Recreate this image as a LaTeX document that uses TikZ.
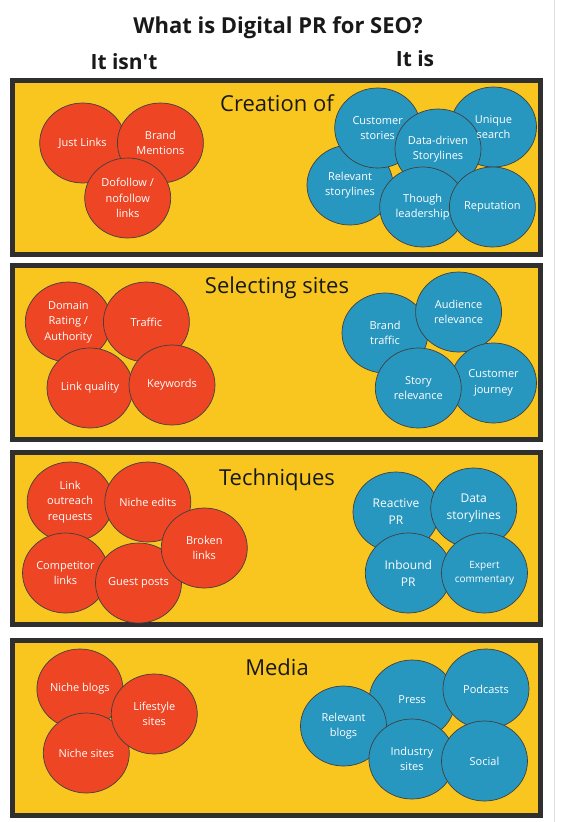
\documentclass[tikz,border=0pt]{standalone}
\usepackage{fontspec}
\setmainfont{Open Sans}
\usetikzlibrary{shapes.geometric}
\definecolor{pyellow}{HTML}{F8C61E}
\definecolor{pred}{HTML}{EE4524}
\definecolor{pblue}{HTML}{2897C0}
\definecolor{pborder}{HTML}{2F2F2F}
\tikzset{
  panel/.style={draw=pborder, fill=pyellow, line width=5pt},
  bub/.style={ellipse, minimum width=86pt, minimum height=80pt, inner sep=0pt, draw=black!75, line width=0.7pt},
  redb/.style={bub, fill=pred},
  blueb/.style={bub, fill=pblue},
  lbl/.style={text=white, align=center, font=\fontsize{11}{15.5}\selectfont},
  lblsm/.style={text=white, align=center, font=\fontsize{10}{14.3}\selectfont},
  ptitle/.style={font=\fontsize{22}{26}\selectfont, text=black!90},
  htitle/.style={font=\bfseries\fontsize{21}{25}\selectfont, text=black!90},
}
\begin{document}
\begin{tikzpicture}[x=1pt,y=-1pt]
\useasboundingbox (0,0) rectangle (564,822);
\fill[white] (0,0) rectangle (564,822);
\draw[black!12, line width=1pt] (554,0) coordinate (gl1) -- (554,822) coordinate (gl2);

% titles
\node[htitle, font=\bfseries\fontsize{22}{26}\selectfont] (title) at (278,28) {What is Digital PR for SEO?};
\node[htitle] (isnt) at (124,62) {It isn\textquotesingle t};
\node[htitle] (is) at (415,59) {It is};

% panels
\draw[panel] (12.5,80.5) rectangle (540.5,254.5);
\draw[panel] (12.5,265.5) rectangle (540.5,439.5);
\draw[panel] (12.5,452.5) rectangle (540.5,624.5);
\draw[panel] (12.5,640.5) rectangle (540.5,815.5);

\node[ptitle] (t1) at (277,103) {Creation of};
\node[ptitle] (t2) at (277,288) {Selecting sites};
\node[ptitle] (t3) at (277,480) {Techniques};
\node[ptitle] (t4) at (277,667) {Media};

% ---- panel 1 ----
\node[redb] (jl) at (82.7,143) {};
\node[redb] (bm) at (160.4,143) {};
\node[redb] (df) at (127.7,198) {};
\node[blueb] (rs) at (350,185) {};
\node[blueb] (cs) at (377.7,128) {};
\node[blueb] (us) at (493.5,127) {};
\node[blueb] (dd) at (438,149) {};
\node[blueb] (tl) at (422.7,207) {};
\node[blueb] (rp) at (492.4,207) {};
\node[lbl] at (jl) {Just Links};
\node[lbl] at (bm) {Brand\\Mentions};
\node[lbl] at (df) {Dofollow /\\nofollow\\links};
\node[lbl] at (rs) {Relevant\\storylines};
\node[lbl] at (cs) {Customer\\stories};
\node[lbl] at (us) {Unique\\search};
\node[lbl] at (dd) {Data-driven\\Storylines};
\node[lbl] at (tl) {Though\\leadership};
\node[lbl] at (rp) {Reputation};

% ---- panel 2 ----
\node[redb] (dr) at (68.3,322) {};
\node[redb] (tr) at (146.4,322) {};
\node[redb] (lq) at (90,388) {};
\node[redb] (kw) at (172,385) {};
\node[blueb] (bt) at (385,333) {};
\node[blueb] (ar) at (458.6,312) {};
\node[blueb] (cj) at (493.5,383) {};
\node[blueb] (sr) at (418.3,388) {};
\node[lbl] at (dr) {Domain\\Rating /\\Authority};
\node[lbl] at (tr) {Traffic};
\node[lbl] at (lq) {Link quality};
\node[lbl] at (kw) {Keywords};
\node[lbl] at (bt) {Brand\\traffic};
\node[lbl] at (ar) {Audience\\relevance};
\node[lbl] at (cj) {Customer\\journey};
\node[lbl] at (sr) {Story\\relevance};

% ---- panel 3 ----
\node[redb] (lo) at (70.1,502) {};
\node[redb] (ne) at (147.8,502) {};
\node[redb] (cl) at (65.5,573) {};
\node[redb] (gp) at (138.5,583) {};
\node[redb] (bl) at (204.3,548) {};
\node[blueb] (rpr) at (396,512) {};
\node[blueb] (ds) at (473.7,508) {};
\node[blueb] (ipr) at (408.3,573) {};
\node[blueb] (ec) at (484.5,573) {};
\node[lbl] at (lo) {Link\\outreach\\requests};
\node[lbl] at (ne) {Niche edits};
\node[lbl] at (cl) {Competitor\\links};
\node[lbl] at (gp) {Guest posts};
\node[lbl] at (bl) {Broken\\links};
\node[lbl, font=\fontsize{12}{17}\selectfont] at (rpr) {Reactive\\PR};
\node[lbl, font=\fontsize{12}{17}\selectfont] at (ds) {Data\\storylines};
\node[lbl, font=\fontsize{12}{17}\selectfont] at (ipr) {Inbound\\PR};
\node[lblsm] at (ec) {Expert\\commentary};

% ---- panel 4 ----
\node[redb] (nb) at (79.9,689) {};
\node[redb] (ns) at (86.3,753) {};
\node[redb] (ls) at (154.3,714) {};
\node[blueb] (pr) at (412.2,700) {};
\node[blueb] (pc) at (486,689) {};
\node[blueb] (rb) at (343.5,726) {};
\node[blueb] (is2) at (411.9,759) {};
\node[blueb] (so) at (484.5,761) {};
\node[lbl] at (nb) {Niche blogs};
\node[lbl] at (ns) {Niche sites};
\node[lbl] at (ls) {Lifestyle\\sites};
\node[lbl] at (pr) {Press};
\node[lbl] at (pc) {Podcasts};
\node[lbl] at (rb) {Relevant\\blogs};
\node[lbl] at (is2) {Industry\\sites};
\node[lbl] at (so) {Social};
\end{tikzpicture}
\end{document}
